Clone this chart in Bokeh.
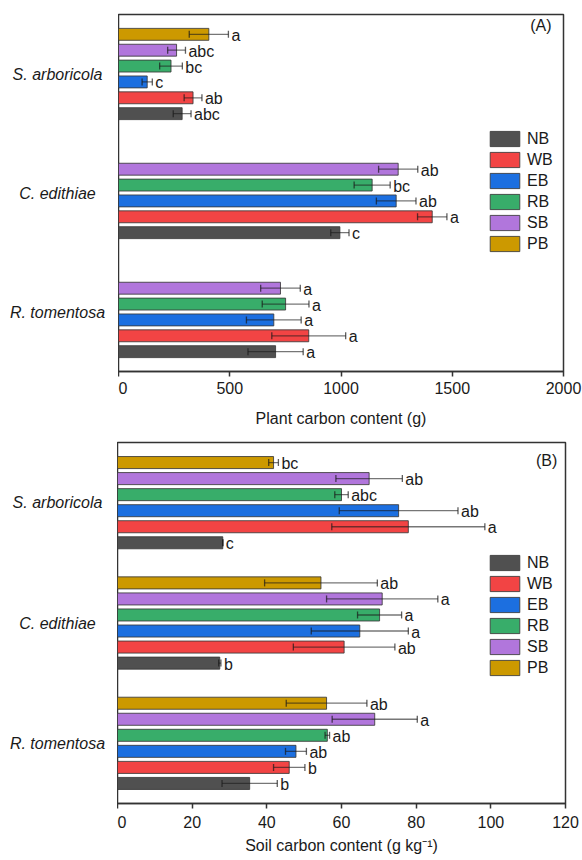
from bokeh.plotting import figure
from bokeh.models import (ColumnDataSource, Range1d, FixedTicker, Whisker, TeeHead,
                          Label, Legend, LegendItem)
from bokeh.layouts import column, row
from bokeh.embed import file_html
from bokeh.resources import INLINE
from bokeh.core.properties import value

# ---------------- data ----------------
species = ["S. arboricola", "C. edithiae", "R. tomentosa"]
treatments = ["NB", "WB", "EB", "RB", "SB", "PB"]
colors = ["#505050", "#f24444", "#1c6fe0", "#38ad6a", "#b176dc", "#cc9900"]

# Plant carbon content (g); order of values follows `species`
plant_NB = [286, 995, 706]
plant_WB = [335, 1410, 855]
plant_EB = [129, 1248, 698]
plant_RB = [236, 1140, 751]
plant_SB = [261, 1257, 728]
plant_PB = [406, None, None]
plant_err_NB = [40, 41, 124]
plant_err_WB = [40, 66, 166]
plant_err_EB = [23, 89, 123]
plant_err_RB = [51, 81, 105]
plant_err_SB = [40, 88, 89]
plant_err_PB = [88, None, None]
plant_let_NB = ["abc", "c", "a"]
plant_let_WB = ["ab", "a", "a"]
plant_let_EB = ["c", "ab", "a"]
plant_let_RB = ["bc", "bc", "a"]
plant_let_SB = ["abc", "ab", "a"]
plant_let_PB = ["a", None, None]

# Soil carbon content (g kg-1)
soil_NB = [28.2, 27.4, 35.4]
soil_WB = [77.9, 60.7, 46.0]
soil_EB = [75.3, 64.9, 47.8]
soil_RB = [60.0, 70.2, 56.2]
soil_SB = [67.4, 70.9, 68.9]
soil_PB = [41.8, 54.5, 56.0]
soil_err_NB = [0.0, 0.3, 7.4]
soil_err_WB = [20.5, 13.6, 4.2]
soil_err_EB = [15.9, 13.0, 2.8]
soil_err_RB = [1.8, 5.9, 0.6]
soil_err_SB = [8.9, 14.9, 11.4]
soil_err_PB = [1.3, 15.1, 10.8]
soil_let_NB = ["c", "b", "b"]
soil_let_WB = ["a", "ab", "b"]
soil_let_EB = ["ab", "a", "ab"]
soil_let_RB = ["abc", "a", "ab"]
soil_let_SB = ["ab", "a", "a"]
soil_let_PB = ["bc", "ab", "ab"]

plant_ticks = [0, 500, 1000, 1500, 2000]
soil_ticks = [0, 20, 40, 60, 80, 100, 120]

plant_means = [plant_NB, plant_WB, plant_EB, plant_RB, plant_SB, plant_PB]
plant_errs = [plant_err_NB, plant_err_WB, plant_err_EB, plant_err_RB, plant_err_SB, plant_err_PB]
plant_lets = [plant_let_NB, plant_let_WB, plant_let_EB, plant_let_RB, plant_let_SB, plant_let_PB]
soil_means = [soil_NB, soil_WB, soil_EB, soil_RB, soil_SB, soil_PB]
soil_errs = [soil_err_NB, soil_err_WB, soil_err_EB, soil_err_RB, soil_err_SB, soil_err_PB]
soil_lets = [soil_let_NB, soil_let_WB, soil_let_EB, soil_let_RB, soil_let_SB, soil_let_PB]

FONT = "Liberation Sans"
group_base = [15.0, 7.5, 0.0]   # slot position of each species group
DARK = "#333333"
YR = (-1.25, 21.25)


def make_panel(means, errs, lets, xmax, ticks, xlabel, tag, tag_x, tag_y,
               height, b_top, left_w, frame_w, b_bottom, legend_xy,
               lab_standoff, title_standoff):
    # left strip holding the centred, italic species names
    lab = figure(width=left_w, height=height, x_range=Range1d(0, left_w),
                 y_range=Range1d(*YR), x_axis_type=None, y_axis_type=None,
                 output_backend="svg", toolbar_location=None,
                 min_border_left=0, min_border_right=0,
                 min_border_top=b_top, min_border_bottom=b_bottom)
    lab.outline_line_color = None
    lab.xgrid.visible = False
    lab.ygrid.visible = False
    lsrc = ColumnDataSource(dict(x=[57] * len(species),
                                 y=[b + 2.5 for b in group_base],
                                 t=species))
    lab.text(x="x", y="y", text="t", source=lsrc, text_align="center",
             text_baseline="middle", text_font=value(FONT),
             text_font_size=value("16px"), text_font_style="italic",
             text_color="#1a1a1a")

    width = 582 - left_w
    p = figure(width=width, height=height,
               x_range=Range1d(0, xmax), y_range=Range1d(*YR),
               y_axis_type=None,
               output_backend="svg", toolbar_location=None,
               min_border_left=0, min_border_right=width - frame_w,
               min_border_top=b_top, min_border_bottom=b_bottom)
    p.xgrid.visible = False
    p.ygrid.visible = False
    p.outline_line_color = DARK
    p.outline_line_width = 1.5
    p.background_fill_color = "white"
    p.border_fill_color = "white"

    ax = p.xaxis[0]
    ax.ticker = FixedTicker(ticks=ticks, minor_ticks=[])
    ax.axis_line_color = DARK
    ax.axis_line_width = 1.5
    ax.major_tick_line_color = DARK
    ax.major_tick_line_width = 1.5
    ax.major_tick_out = 5
    ax.major_tick_in = 0
    ax.minor_tick_line_color = None
    ax.major_label_text_font = FONT
    ax.major_label_text_font_size = "16px"
    ax.major_label_text_color = "#1a1a1a"
    ax.major_label_standoff = lab_standoff
    ax.axis_label = xlabel
    ax.axis_label_text_font = FONT
    ax.axis_label_text_font_size = "16px"
    ax.axis_label_text_font_style = "normal"
    ax.axis_label_text_color = "#1a1a1a"
    ax.axis_label_standoff = title_standoff

    items = []
    for t, (name, col) in enumerate(zip(treatments, colors)):
        ys, xs, lo, hi, tx, tt = [], [], [], [], [], []
        for g in range(len(species)):
            m = means[t][g]
            if m is None:
                continue
            e = errs[t][g]
            y = group_base[g] + t
            ys.append(y)
            xs.append(m)
            lo.append(m - e)
            hi.append(m + e)
            tx.append(m + e)
            tt.append(lets[t][g])
        src = ColumnDataSource(dict(y=ys, x=xs, lo=lo, hi=hi, tx=tx, tt=tt))
        r = p.hbar(y="y", right="x", left=0, height=0.75, source=src,
                   fill_color=col, line_color="#3a3a3a", line_alpha=0.85, line_width=1)
        items.append(LegendItem(label=name, renderers=[r]))
        w = Whisker(base="y", lower="lo", upper="hi", dimension="width", source=src,
                    line_color="#1a1a1a", line_alpha=0.6, line_width=1.3, level="overlay",
                    upper_head=TeeHead(size=7, line_color="#1a1a1a", line_alpha=0.7, line_width=1.3),
                    lower_head=TeeHead(size=7, line_color="#1a1a1a", line_alpha=0.7, line_width=1.3))
        p.add_layout(w)
        p.text(x="tx", y="y", text="tt", source=src, x_offset=3, y_offset=1,
               text_font=value(FONT), text_font_size=value("16px"),
               text_color="#1a1a1a", text_align="left", text_baseline="middle")

    leg = Legend(items=items, location=legend_xy, orientation="vertical",
                 glyph_width=37, glyph_height=19, label_height=19, spacing=2,
                 padding=0, margin=0, label_standoff=4,
                 label_text_font=FONT, label_text_font_size="16px",
                 label_text_color="#1a1a1a",
                 border_line_color=None, background_fill_alpha=0)
    p.add_layout(leg)

    p.add_layout(Label(x=tag_x, y=tag_y, text=tag, text_align="right",
                       text_baseline="middle", text_font=FONT,
                       text_font_size="16px", text_color="#1a1a1a"))
    return row(lab, p, spacing=0)


pA = make_panel(plant_means, plant_errs, plant_lets, 2000, plant_ticks,
                "Plant carbon content (g)", "(A)", 1946, 20.56,
                height=432, b_top=14, left_w=118, frame_w=445, b_bottom=61,
                legend_xy=(368, 118), lab_standoff=5, title_standoff=13)
pB = make_panel(soil_means, soil_errs, soil_lets, 120, soil_ticks,
                "Soil carbon content (g kg\u207b\u00b9)", "(B)", 117.8, 20.1,
                height=428, b_top=10, left_w=117, frame_w=448, b_bottom=57,
                legend_xy=(369, 126), lab_standoff=7, title_standoff=6)

layout = column(pA, pB, spacing=0)
open("out.html", "w").write(file_html(layout, INLINE))
